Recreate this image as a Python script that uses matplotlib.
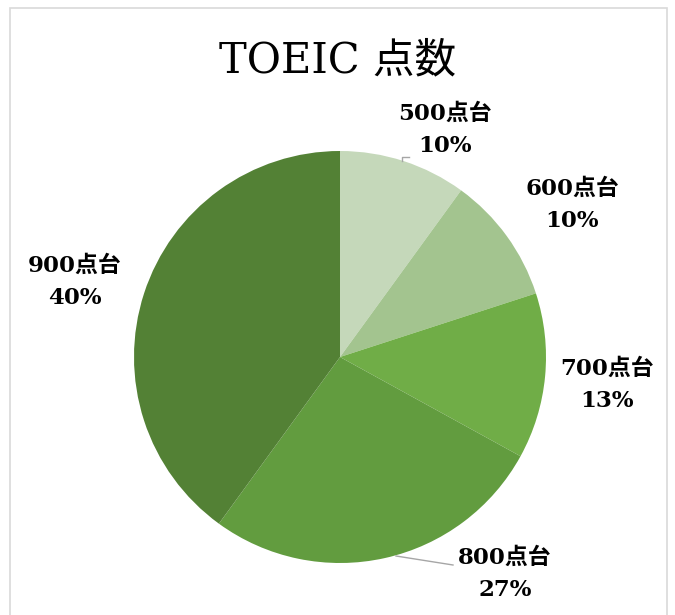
import matplotlib
matplotlib.use("Agg")
import matplotlib.pyplot as plt
from matplotlib.patches import Rectangle

plt.rcParams['font.family'] = ['DejaVu Serif', 'Noto Sans CJK JP']

# data
categories = ['500点台', '600点台', '700点台', '800点台', '900点台']
shares = [10, 10, 13, 27, 40]
colors = ['#C5D8BA', '#A3C48F', '#70AD47', '#629C3F', '#538135']

W, H = 675, 615
fig = plt.figure(figsize=(W / 100, H / 100), dpi=100)
ax = fig.add_axes([0, 0, 1, 1])

def py(y):
    # pixel row -> data y
    return H - y

cx, cy, r = 340, 357, 206
ax.pie(shares, colors=colors, startangle=90, counterclock=False,
       center=(cx, py(cy)), radius=r, frame=True,
       wedgeprops=dict(linewidth=0))
ax.set_xlim(0, W)
ax.set_ylim(0, H)
ax.set_aspect('equal')
ax.axis('off')

# chart frame
ax.add_patch(Rectangle((10, py(640)), 657, 632, fill=False,
                       edgecolor='#D9D9D9', linewidth=1.2))

ax.text(338, py(60), 'TOEIC 点数', ha='center', va='center', fontsize=30)

# label positions (pixel coords)
label_pos = [(445, 130), (572, 205), (607, 385), (505, 574), (75, 282)]
for cat, val, (lx, ly) in zip(categories, shares, label_pos):
    ax.text(lx, py(ly), f'{cat}\n{val}%', ha='center', va='center',
            fontsize=16.5, fontweight='bold', linespacing=1.6)

# leader lines
ax.plot([402, 402, 409], [py(161), py(157), py(157)], color='#A6A6A6', lw=1)
ax.plot([396, 453], [py(556), py(565)], color='#A6A6A6', lw=1)

fig.savefig('out.png', dpi=100)
